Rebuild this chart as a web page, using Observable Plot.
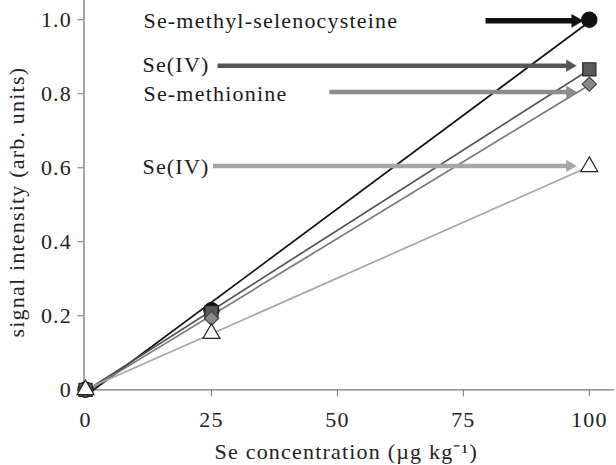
<!DOCTYPE html>
<html><head><meta charset="utf-8">
<script src="https://cdn.jsdelivr.net/npm/d3@7"></script>
<script src="https://cdn.jsdelivr.net/npm/@observablehq/plot@0.6"></script>
<style>
body{margin:0;background:#fff}
#chart svg text{letter-spacing:1.2px}
</style>
</head><body><div id="chart"></div>
<script>
// ---- data ----
const concentrations = [0, 25, 100];
const seriesIds = ["smc", "se4a", "smet", "se4b"];
const seriesLabels = ["Se-methyl-selenocysteine", "Se(IV)", "Se-methionine", "Se(IV)"];
const smcValues  = [0, 0.215, 1.0];
const se4aValues = [0, 0.21, 0.866];
const smetValues = [0, 0.193, 0.826];
const se4bValues = [0, 0.152, 0.603];
const yTicks = [0, 0.2, 0.4, 0.6, 0.8, 1.0];
const xTicks = [0, 25, 50, 75, 100];
// annotation arrows (data units)
const arrowY  = [0.997, 0.876, 0.805, 0.605];
const arrowX1 = [79.5, 26.3, 48.5, 25.4];
const arrowX2 = [99.3, 97.9, 97.9, 97.9];
const labelX  = [11.5, 11.3, 11.5, 11.3];
const labelY  = [0.997, 0.878, 0.800, 0.603];

// ---- styles ----
const styles = {
  smc:  {line: "#111", arrow: "#111", symbol: "circle", fill: "#111", stroke: "#111", r: 7.6, head: 6.6, shaft: 5.5},
  se4a: {line: "#555", arrow: "#555", symbol: "square", fill: "#5a5a5a", stroke: "#222", r: 7.4, head: 5.8, shaft: 4.5},
  smet: {line: "#7a7a7a", arrow: "#8c8c8c", symbol: "diamond2", fill: "#8a8a8a", stroke: "#444", r: 6.4, head: 5.8, shaft: 4.5},
  se4b: {line: "#a5a5a5", arrow: "#a6a6a6", symbol: "triangle", fill: "#fff", stroke: "#222", r: 6.3, head: 5.8, shaft: 4.5}
};

const valuesById = {smc: smcValues, se4a: se4aValues, smet: smetValues, se4b: se4bValues};
const points = seriesIds.flatMap(id => concentrations.map((c, i) => ({id, x: c, y: valuesById[id][i]})));
const arrows = seriesIds.map((id, i) => ({id, y: arrowY[i], x1: arrowX1[i], x2: arrowX2[i], label: seriesLabels[i], lx: labelX[i], ly: labelY[i]}));

const xDomain = [-0.3, 105];
const width = 616, marginLeft = 83.5, marginRight = 2;
const pxPerUnit = (width - marginLeft - marginRight) / (xDomain[1] - xDomain[0]);
const fs = 22;
const marks = [];

// regression lines
for (const id of seriesIds) {
  marks.push(Plot.linearRegressionY(points.filter(d => d.id === id), {x: "x", y: "y", ci: 0, stroke: styles[id].line, strokeWidth: 1.7}));
}
// arrows: shaft + filled head
for (const a of arrows) {
  const s = styles[a.id];
  const tip = 2 * s.head * Math.sqrt(Math.PI / (3 * Math.sqrt(3))); // centroid -> tip for symbolTriangle
  marks.push(Plot.ruleY([a], {y: "y", x1: "x1", x2: d => d.x2 - tip / pxPerUnit, stroke: s.arrow, strokeWidth: s.shaft}));
  marks.push(Plot.dot([a], {x: "x2", y: "y", symbol: "triangle2", r: s.head, fill: s.arrow, stroke: "none", rotate: 90, dx: -tip}));
  marks.push(Plot.text([a], {x: "lx", y: "ly", text: "label", textAnchor: "start", lineAnchor: "middle", fontSize: fs, fill: "#1a1a1a"}));
}
// markers
for (const id of seriesIds) {
  const s = styles[id];
  marks.push(Plot.dot(points.filter(d => d.id === id), {x: "x", y: "y", symbol: s.symbol, r: s.r, fill: s.fill, stroke: s.stroke, strokeWidth: 1.2}));
}

const chart = Plot.plot({
  width,
  height: 465,
  marginLeft,
  marginRight,
  marginTop: 0,
  marginBottom: 75.7,
  style: {fontFamily: "'Liberation Serif', 'Times New Roman', serif", fontSize: fs + "px", color: "#222", background: "#fff"},
  x: {domain: xDomain},
  y: {domain: [0, 1.052]},
  marks: [
    Plot.ruleY([0], {stroke: "#777", strokeWidth: 1.3}),
    Plot.ruleX([xDomain[0]], {stroke: "#777", strokeWidth: 1.3}),
    Plot.axisX({ticks: xTicks, tickSize: 7, tickPadding: 15, tickFormat: d3.format("d"), label: null, fontSize: fs, stroke: "#777"}),
    Plot.axisY({ticks: yTicks, tickSize: 6, tickPadding: 6, tickFormat: d => d === 0 ? "0" : d3.format(".1f")(d), label: null, fontSize: fs, stroke: "#777"}),
    Plot.text(["Se concentration (\u00b5g kg\u207b\u00b9)"], {frameAnchor: "bottom", dy: 62.4, dx: -3, fontSize: fs, fill: "#222", textAnchor: "middle", lineAnchor: "middle"}),
    Plot.text(["signal intensity (arb. units)"], {frameAnchor: "left", dx: -67, dy: 7, rotate: -90, fontSize: fs, fill: "#222", textAnchor: "middle", lineAnchor: "middle"}),
    ...marks
  ]
});
document.getElementById("chart").appendChild(chart);
</script>
</body></html>
